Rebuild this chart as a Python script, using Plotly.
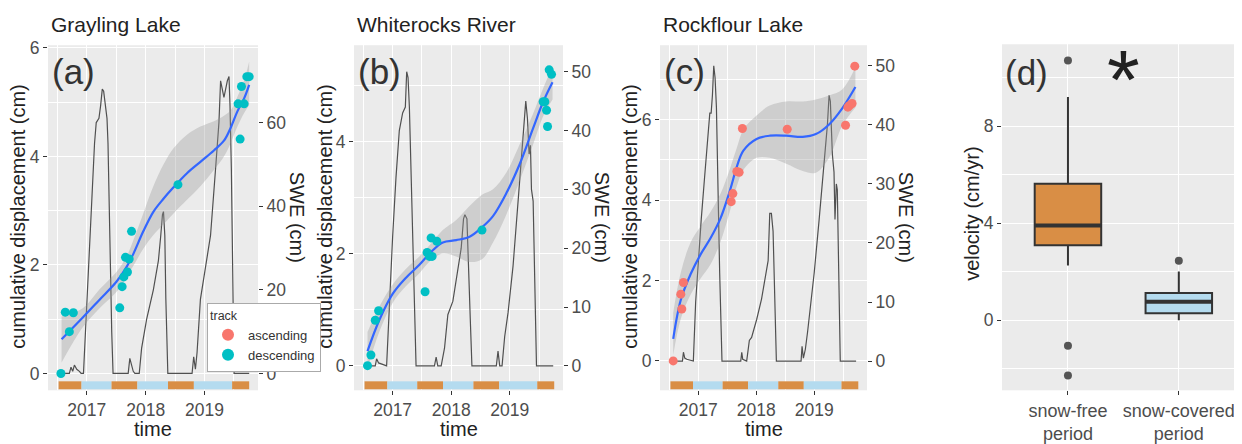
import plotly.graph_objects as go

W, H = 1242, 444
OX, OY = 8, 8          # page body margin offset of the figure div
FONT = "Liberation Sans, Arial, sans-serif"

# ---------------- data ----------------
PERIOD_EDGES = [2016.52, 2016.91, 2017.42, 2017.86, 2018.38, 2018.82, 2019.47, 2019.76]
PERIOD_KIND = ["snow-free", "snow-covered", "snow-free", "snow-covered",
               "snow-free", "snow-covered", "snow-free"]

# (a) Grayling Lake
SWE_A_T = [2016.56, 2016.703, 2016.731, 2016.76, 2016.789, 2016.829, 2016.874, 2016.903, 2016.943, 2016.977,
           2017.017, 2017.074, 2017.131, 2017.16, 2017.206, 2017.234, 2017.263, 2017.286, 2017.303, 2017.32,
           2017.343, 2017.36, 2017.389, 2017.423, 2017.446, 2017.703, 2017.731, 2017.76, 2017.789, 2017.817,
           2017.891, 2017.931, 2018.017, 2018.131, 2018.217, 2018.257, 2018.286, 2018.303, 2018.326, 2018.343,
           2018.377, 2018.789, 2018.817, 2018.846, 2018.874, 2018.931, 2019.017, 2019.103, 2019.189, 2019.246,
           2019.274, 2019.303, 2019.331, 2019.36, 2019.389, 2019.417, 2019.434, 2019.457, 2019.486, 2019.503,
           2019.76]
SWE_A_V = [0, 0, 1.5, 0.5, 2.0, 1.0, 0.5, 0, 0, 10,
           23, 39, 55, 60, 61, 64, 68, 67.5, 65, 64,
           61, 55, 33, 10, 0, 0, 3.6, 2, 0.5, 0,
           0, 6, 13, 20, 27, 33, 38, 38.7, 33, 18,
           0, 0, 4, 1, 5, 17.7, 25, 33, 49, 60,
           70, 68, 66, 68, 70, 71, 64, 49, 18, 0,
           0]
PTS_A_T = [2016.56, 2016.634, 2016.703, 2016.771, 2017.56, 2017.6, 2017.629, 2017.657, 2017.691,
           2017.72, 2017.76, 2018.549, 2019.571, 2019.606, 2019.629, 2019.674, 2019.72, 2019.76]
PTS_A_V = [0, 1.13, 0.77, 1.12, 1.21, 1.6, 1.78, 2.14, 1.87,
           2.11, 2.62, 3.48, 4.97, 4.32, 5.29, 4.97, 5.47, 5.47]
FIT_A_T = [2016.571, 2016.931, 2017.217, 2017.503, 2017.674, 2017.789, 2017.96, 2018.131, 2018.303,
           2018.474, 2018.703, 2018.931, 2019.16, 2019.331, 2019.446, 2019.56, 2019.674, 2019.76]
FIT_A_V = [0.63, 1.03, 1.36, 1.69, 1.96, 2.2, 2.62, 2.98, 3.22,
           3.43, 3.69, 3.9, 4.11, 4.29, 4.53, 4.83, 5.07, 5.32]
FIT_A_LO = [0.2, 0.85, 1.2, 1.5, 1.78, 1.98, 2.3, 2.55, 2.75,
            2.95, 3.2, 3.45, 3.75, 4.0, 4.25, 4.55, 4.8, 4.95]
FIT_A_HI = [1.05, 1.2, 1.55, 1.87, 2.15, 2.45, 2.95, 3.45, 3.85,
            4.15, 4.4, 4.55, 4.65, 4.75, 4.85, 5.1, 5.4, 5.75]

# (b) Whiterocks River
SWE_B_T = [2016.571, 2016.703, 2016.726, 2016.76, 2016.897, 2016.931, 2017.0, 2017.057, 2017.114, 2017.171,
           2017.217, 2017.24, 2017.263, 2017.286, 2017.314, 2017.343, 2017.371, 2017.4, 2017.714, 2017.743,
           2017.771, 2017.829, 2017.886, 2017.943, 2018.029, 2018.114, 2018.171, 2018.211, 2018.234, 2018.269,
           2018.297, 2018.326, 2018.354, 2018.771, 2018.8, 2018.829, 2018.869, 2018.914, 2018.971, 2019.057,
           2019.143, 2019.217, 2019.274, 2019.303, 2019.331, 2019.354, 2019.371, 2019.4, 2019.429, 2019.457,
           2019.743]
SWE_B_V = [0, 0, 1.2, 0.5, 0, 8, 22, 32, 40, 43,
           44, 50, 49, 44, 34, 20, 10, 0, 0, 1.5,
           0, 0, 3, 8.7, 11, 16, 20, 25, 25.7, 25,
           18, 8, 0, 0, 2.5, 0, 0, 5, 9, 17,
           28, 38, 45, 42, 36, 37.5, 30, 28, 12, 0,
           0]
PTS_B_T = [2016.571, 2016.629, 2016.703, 2016.76, 2017.554, 2017.589, 2017.629, 2017.657, 2017.674,
           2017.754, 2018.526, 2019.571, 2019.6, 2019.629, 2019.646, 2019.674, 2019.714]
PTS_B_V = [0, 0.19, 0.81, 0.98, 1.32, 2.02, 1.95, 2.28, 1.95,
           2.22, 2.42, 4.71, 4.71, 4.56, 4.27, 5.28, 5.2]
FIT_B_T = [2016.571, 2016.771, 2017.0, 2017.229, 2017.457, 2017.657, 2017.857, 2018.086, 2018.314,
           2018.526, 2018.714, 2018.943, 2019.171, 2019.4, 2019.571, 2019.731]
FIT_B_V = [0.26, 0.81, 1.28, 1.57, 1.8, 2.03, 2.2, 2.24, 2.3,
           2.47, 2.67, 3.08, 3.6, 4.24, 4.71, 5.06]
FIT_B_LO = [-0.05, 0.6, 1.12, 1.42, 1.65, 1.88, 2.0, 1.95, 1.85,
            1.9, 2.2, 2.7, 3.3, 3.95, 4.45, 4.75]
FIT_B_HI = [0.6, 1.05, 1.45, 1.73, 1.95, 2.18, 2.42, 2.6, 2.85,
            3.05, 3.15, 3.45, 3.95, 4.5, 4.95, 5.35]

# (c) Rockflour Lake
SWE_C_T = [2016.568, 2016.727, 2016.744, 2016.767, 2016.801, 2016.915, 2016.955, 2016.994, 2017.051, 2017.108,
           2017.165, 2017.199, 2017.222, 2017.244, 2017.267, 2017.29, 2017.313, 2017.335, 2017.369, 2017.409,
           2017.733, 2017.75, 2017.767, 2017.835, 2017.881, 2017.92, 2018.006, 2018.091, 2018.148, 2018.205,
           2018.233, 2018.261, 2018.29, 2018.318, 2018.347, 2018.773, 2018.79, 2018.813, 2018.847, 2018.886,
           2018.943, 2019.0, 2019.085, 2019.17, 2019.227, 2019.256, 2019.278, 2019.313, 2019.341, 2019.358,
           2019.381, 2019.398, 2019.426, 2019.449, 2019.722]
SWE_C_V = [0, 0, 1.5, 0.5, 0.3, 0, 10, 16, 24, 31,
           38, 42, 42, 45, 50, 48, 43, 30, 15, 0,
           0, 1.5, 0.3, 0, 3.5, 4, 7, 10.5, 14, 17,
           25, 25, 22, 10, 0, 0, 2.5, 0.5, 2, 5,
           10, 15, 24, 34, 40, 45, 44, 35, 32, 24,
           30, 29, 12, 0, 0]
PTS_C_T = [2016.568, 2016.699, 2016.716, 2016.744, 2017.568, 2017.597, 2017.665, 2017.705,
           2017.761, 2018.534, 2019.54, 2019.58, 2019.608, 2019.653, 2019.699]
PTS_C_V = [0, 1.66, 1.29, 1.95, 3.96, 4.16, 4.71, 4.69,
           5.78, 5.76, 5.86, 6.31, 6.35, 6.4, 7.33]
FIT_C_T = [2016.568, 2016.699, 2016.869, 2017.04, 2017.21, 2017.381, 2017.551, 2017.665, 2017.778,
           2018.006, 2018.233, 2018.517, 2018.801, 2019.028, 2019.256, 2019.483, 2019.71]
FIT_C_V = [0.55, 1.52, 2.16, 2.65, 3.05, 3.54, 4.26, 4.83, 5.23,
           5.52, 5.6, 5.6, 5.57, 5.64, 5.88, 6.28, 6.81]
FIT_C_LO = [0.15, 1.05, 1.65, 2.05, 2.4, 2.95, 3.75, 4.35, 4.75,
            5.05, 5.05, 4.9, 4.72, 4.68, 5.05, 5.85, 6.3]
FIT_C_HI = [1.2, 2.2, 2.95, 3.35, 3.7, 4.15, 4.8, 5.3, 5.75,
            6.1, 6.35, 6.45, 6.45, 6.5, 6.6, 6.75, 7.3]

# (d) velocity boxplot
BOX_CATS = ["snow-free<br>period", "snow-covered<br>period"]
BOX_Q1 = [3.09, 0.28]
BOX_MED = [3.9, 0.76]
BOX_Q3 = [5.62, 1.12]
BOX_LOW = [2.25, 0.0]
BOX_UP = [9.2, 2.0]
OUT_CAT = [1, 1, 1, 2]
OUT_VAL = [10.7, -1.05, -2.28, 2.45]

PANEL_TITLES = ["Grayling Lake", "Whiterocks River", "Rockflour Lake"]
PANEL_LABELS = ["(a)", "(b)", "(c)", "(d)"]
TRACKS = ["ascending", "descending"]

# ---------------- styles ----------------
C_ORANGE = "#D98E45"
C_BLUE = "#B4DBEF"
C_ASC = "#F8766D"
C_DESC = "#00BFC4"
C_FIT = "#3366FF"
C_SWE = "#505050"
C_BG = "#EBEBEB"
C_TICK = "#4D4D4D"
C_TITLE = "#222222"
PERIOD_COL = {"snow-free": C_ORANGE, "snow-covered": C_BLUE}
FW, FH = W - OX, H - OY


def px(x):
    return (x - OX) / FW


def py(y):
    return 1 - (y - OY) / FH


PANEL_PX = [(48, 258), (354, 563), (660, 867)]
PANEL_TOP, PANEL_BOT = 39, 393
X_RANGE = [2016.34, 2019.91]
DISP_RANGE = [[-0.31, 6.05], [-0.44, 5.72], [-0.73, 7.85]]
SWE_RANGE = [[-4.03, 78.5], [-4.15, 54.5], [-4.95, 53.5]]
DISP_TICKS = [[0, 2, 4, 6], [0, 2, 4], [0, 2, 4, 6]]
SWE_TICKS = [[0, 20, 40, 60], [0, 10, 20, 30, 40, 50], [0, 10, 20, 30, 40, 50]]

panels = [
    (SWE_A_T, SWE_A_V, PTS_A_T, PTS_A_V, FIT_A_T, FIT_A_V, FIT_A_LO, FIT_A_HI, C_DESC),
    (SWE_B_T, SWE_B_V, PTS_B_T, PTS_B_V, FIT_B_T, FIT_B_V, FIT_B_LO, FIT_B_HI, C_DESC),
    (SWE_C_T, SWE_C_V, PTS_C_T, PTS_C_V, FIT_C_T, FIT_C_V, FIT_C_LO, FIT_C_HI, C_ASC),
]

fig = go.Figure()
layout = dict(
    width=FW, height=FH, autosize=False,
    margin=dict(l=0, r=0, t=0, b=0, pad=0),
    paper_bgcolor="white", plot_bgcolor=C_BG,
    font=dict(family=FONT, size=17, color=C_TICK),
    showlegend=True,
    shapes=[], annotations=[],
)

tickfont = dict(family=FONT, size=17.5, color=C_TICK)

for i, (st, sv, pt, pv, ft, fv, flo, fhi, pcol) in enumerate(panels):
    xn = "x" if i == 0 else f"x{i + 1}"
    base_n = 2 * i + 1           # SWE axis (base, right side)
    over_n = 2 * i + 2           # displacement axis (overlay, left side)
    yb = "y" if base_n == 1 else f"y{base_n}"
    yo = f"y{over_n}"
    x0p, x1p = PANEL_PX[i]
    dom_x = [px(x0p), px(x1p)]
    dom_y = [py(PANEL_BOT), py(PANEL_TOP)]

    layout["xaxis" if i == 0 else f"xaxis{i + 1}"] = dict(
        domain=dom_x, anchor=yb, range=X_RANGE,
        tickmode="array", tickvals=[2017, 2018, 2019], ticktext=["2017", "2018", "2019"],
        ticks="outside", ticklen=4, tickcolor="#333", tickwidth=1,
        tickfont=tickfont, showgrid=True, gridcolor="white", gridwidth=1.3,
        minor=dict(tickmode="linear", tick0=0, dtick=0.5, showgrid=True,
                   gridcolor="white", gridwidth=0.6),
        zeroline=False, showline=False,
    )
    layout["yaxis" if base_n == 1 else f"yaxis{base_n}"] = dict(
        domain=dom_y, anchor=xn, side="right", range=SWE_RANGE[i],
        tickmode="array", tickvals=SWE_TICKS[i],
        ticks="outside", ticklen=4, tickcolor="#333", tickwidth=1,
        tickfont=tickfont, showgrid=False, zeroline=False, showline=False,
    )
    layout[f"yaxis{over_n}"] = dict(
        overlaying=yb, anchor=xn, side="left", range=DISP_RANGE[i],
        tickmode="array", tickvals=DISP_TICKS[i],
        ticks="outside", ticklen=4, tickcolor="#333", tickwidth=1,
        tickfont=tickfont, showgrid=True, gridcolor="white", gridwidth=1.3,
        minor=dict(tickmode="linear", tick0=0, dtick=1, showgrid=True,
                   gridcolor="white", gridwidth=0.6),
        zeroline=False, showline=False,
    )

    # SWE line (base axis, drawn underneath)
    fig.add_trace(go.Scatter(x=st, y=sv, xaxis=xn, yaxis=yb, mode="lines",
                             line=dict(color=C_SWE, width=1.2), showlegend=False,
                             hoverinfo="skip"))
    # confidence band
    fig.add_trace(go.Scatter(x=ft, y=fhi, xaxis=xn, yaxis=yo, mode="lines",
                             line=dict(width=0, shape="spline"), showlegend=False,
                             hoverinfo="skip"))
    fig.add_trace(go.Scatter(x=ft, y=flo, xaxis=xn, yaxis=yo, mode="lines",
                             line=dict(width=0, shape="spline"), fill="tonexty",
                             fillcolor="rgba(153,153,153,0.35)", showlegend=False,
                             hoverinfo="skip"))
    # loess fit
    fig.add_trace(go.Scatter(x=ft, y=fv, xaxis=xn, yaxis=yo, mode="lines",
                             line=dict(color=C_FIT, width=2.2, shape="spline"),
                             showlegend=False))
    # points
    fig.add_trace(go.Scatter(x=pt, y=pv, xaxis=xn, yaxis=yo, mode="markers",
                             marker=dict(color=pcol, size=9), showlegend=False))

    # period bars along the bottom
    for k, kind in enumerate(PERIOD_KIND):
        layout["shapes"].append(dict(
            type="rect", xref=xn, yref=f"{yb} domain",
            x0=PERIOD_EDGES[k], x1=PERIOD_EDGES[k + 1], y0=0.003, y1=0.026,
            fillcolor=PERIOD_COL[kind], line=dict(width=0), layer="above"))

    xc = (x0p + x1p) / 2
    ann = layout["annotations"]
    ann.append(dict(text=PANEL_TITLES[i], x=px(x0p + 1), y=py(18), xref="paper", yref="paper",
                    xanchor="left", yanchor="middle", showarrow=False,
                    font=dict(family=FONT, size=21, color=C_TITLE)))
    ann.append(dict(text=PANEL_LABELS[i], x=px(x0p + 2), y=py(66), xref="paper", yref="paper",
                    xanchor="left", yanchor="middle", showarrow=False,
                    font=dict(family=FONT, size=35, color="#333333")))
    ann.append(dict(text="time", x=px(xc), y=py(433), xref="paper", yref="paper",
                    xanchor="center", yanchor="middle", showarrow=False,
                    font=dict(family=FONT, size=20, color=C_TITLE)))
    ann.append(dict(text="cumulative displacement (cm)", x=px([18, 325, 630][i]), y=py(215),
                    xref="paper", yref="paper", xanchor="center", yanchor="middle",
                    textangle=-90, showarrow=False,
                    font=dict(family=FONT, size=20, color=C_TITLE)))
    ann.append(dict(text="SWE (cm)", x=px([297, 602, 906][i]), y=py(215),
                    xref="paper", yref="paper", xanchor="center", yanchor="middle",
                    textangle=90, showarrow=False,
                    font=dict(family=FONT, size=20, color=C_TITLE)))

# legend entries (panel a)
fig.add_trace(go.Scatter(x=[None], y=[None], xaxis="x", yaxis="y2", mode="markers",
                         marker=dict(color=C_ASC, size=9), name=TRACKS[0]))
fig.add_trace(go.Scatter(x=[None], y=[None], xaxis="x", yaxis="y2", mode="markers",
                         marker=dict(color=C_DESC, size=9), name=TRACKS[1]))

# ---------------- panel (d) ----------------
layout["xaxis4"] = dict(
    domain=[px(1002), 1.0], anchor="y7", range=[0.405, 2.57],
    tickmode="array", tickvals=[1, 2], ticktext=BOX_CATS,
    ticks="outside", ticklen=4, tickcolor="#333", tickwidth=1,
    tickfont=dict(family=FONT, size=18, color=C_TICK),
    showgrid=True, gridcolor="white", gridwidth=1.3, zeroline=False, showline=False,
)
layout["yaxis7"] = dict(
    domain=[py(393), py(38)], anchor="x4", range=[-2.89, 11.37],
    tickmode="array", tickvals=[0, 4, 8],
    ticks="outside", ticklen=4, tickcolor="#333", tickwidth=1,
    tickfont=tickfont, showgrid=True, gridcolor="white", gridwidth=1.3,
    minor=dict(tickmode="linear", tick0=0, dtick=2, showgrid=True,
               gridcolor="white", gridwidth=0.6),
    zeroline=False, showline=False,
)
BOX_HALF = 0.3
for j, fc in enumerate([C_ORANGE, C_BLUE]):
    fig.add_trace(go.Box(x=[j + 1], q1=[BOX_Q1[j]], median=[BOX_MED[j]], q3=[BOX_Q3[j]],
                         lowerfence=[BOX_LOW[j]], upperfence=[BOX_UP[j]],
                         xaxis="x4", yaxis="y7", width=2 * BOX_HALF, whiskerwidth=0,
                         fillcolor=fc, line=dict(color="#333333", width=2),
                         boxpoints=False, showlegend=False))
    # thicker median bar, as in ggplot
    fig.add_trace(go.Scatter(x=[j + 1 - BOX_HALF, j + 1 + BOX_HALF], y=[BOX_MED[j], BOX_MED[j]],
                             xaxis="x4", yaxis="y7", mode="lines",
                             line=dict(color="#333333", width=4), showlegend=False,
                             hoverinfo="skip"))
fig.add_trace(go.Scatter(x=OUT_CAT, y=OUT_VAL, xaxis="x4", yaxis="y7", mode="markers",
                         marker=dict(color="#555555", size=8), showlegend=False))

ann = layout["annotations"]
ann.append(dict(text=PANEL_LABELS[3], x=px(1003), y=py(67), xref="paper", yref="paper",
                xanchor="left", yanchor="middle", showarrow=False,
                font=dict(family=FONT, size=35, color="#333333")))
ann.append(dict(text="*", x=px(1123), y=py(75), xref="paper", yref="paper",
                xanchor="center", yanchor="middle", showarrow=False,
                font=dict(family=FONT, size=84, color="#222222")))
ann.append(dict(text="velocity (cm/yr)", x=px(972), y=py(212), xref="paper", yref="paper",
                xanchor="center", yanchor="middle", textangle=-90, showarrow=False,
                font=dict(family=FONT, size=20, color=C_TITLE)))

layout["legend"] = dict(
    x=px(207), y=py(303), xanchor="left", yanchor="top",
    bgcolor="white", bordercolor="#AAAAAA", borderwidth=1,
    font=dict(family=FONT, size=13, color="#333333"),
    title=dict(text="track", font=dict(family=FONT, size=12.5, color="#333333")),
    tracegroupgap=0, itemsizing="constant", traceorder="normal",
)

fig.update_layout(**layout)
fig.write_html("out.html")
